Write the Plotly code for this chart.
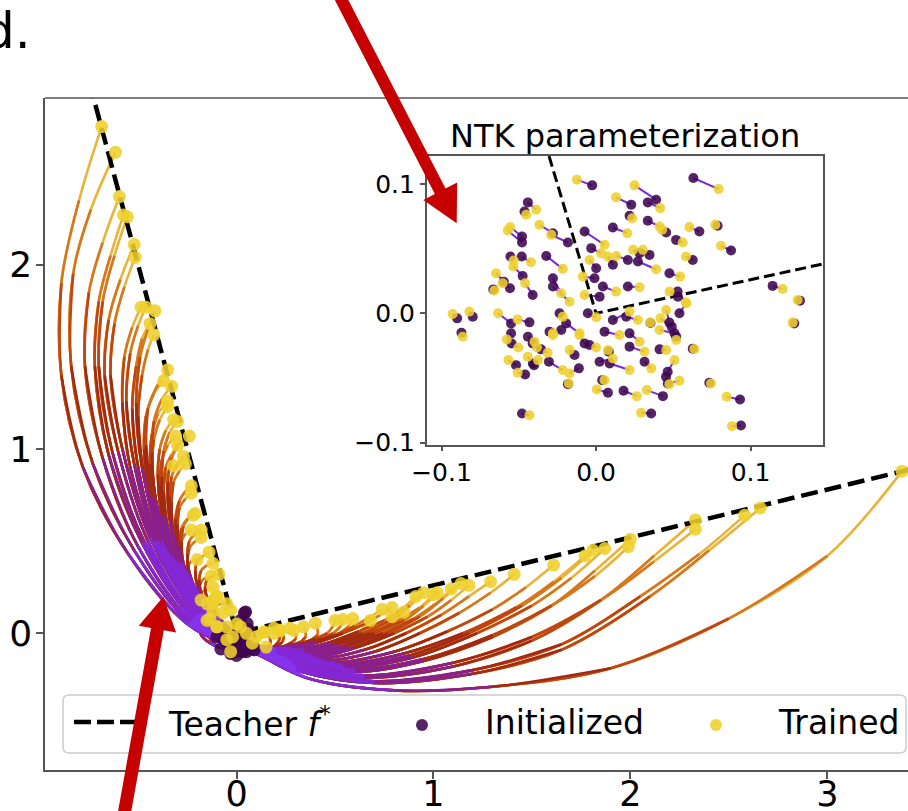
import plotly.graph_objects as go
import math

# ---------------- data ----------------
TEACHER_X = [-1.0, 0.0, 3.5]
TEACHER_Y = [4.0, 0.0, 0.91]

# trajectories ending on the left branch of the teacher (8 samples each, in time order)
LEFT_TRAJ_X = [
    [-0.03, -0.25, -0.55, -0.78, -0.89, -0.89, -0.80, -0.685],
    [-0.02, -0.24, -0.52, -0.73, -0.84, -0.83, -0.74, -0.615],
    [-0.01, -0.23, -0.50, -0.68, -0.77, -0.75, -0.68, -0.595],
    [0.00, -0.22, -0.48, -0.65, -0.72, -0.70, -0.64, -0.575],
    [-0.02, -0.21, -0.47, -0.63, -0.70, -0.68, -0.62, -0.555],
    [0.01, -0.21, -0.45, -0.60, -0.67, -0.65, -0.59, -0.52],
    [-0.01, -0.20, -0.44, -0.58, -0.64, -0.62, -0.57, -0.515],
    [0.00, -0.20, -0.42, -0.54, -0.58, -0.57, -0.53, -0.485],
    [0.02, -0.19, -0.41, -0.52, -0.56, -0.54, -0.50, -0.46],
    [-0.02, -0.18, -0.38, -0.48, -0.51, -0.49, -0.45, -0.415],
    [0.00, -0.19, -0.40, -0.50, -0.53, -0.51, -0.48, -0.44],
    [0.01, -0.18, -0.38, -0.47, -0.50, -0.48, -0.45, -0.42],
    [0.00, -0.17, -0.34, -0.43, -0.46, -0.45, -0.40, -0.35],
    [-0.01, -0.17, -0.35, -0.44, -0.47, -0.46, -0.42, -0.37],
    [0.02, -0.16, -0.33, -0.41, -0.43, -0.42, -0.38, -0.33],
    [0.00, -0.16, -0.33, -0.41, -0.44, -0.43, -0.40, -0.35],
    [-0.02, -0.16, -0.32, -0.40, -0.43, -0.42, -0.39, -0.35],
    [0.01, -0.15, -0.31, -0.38, -0.40, -0.39, -0.36, -0.32],
    [0.00, -0.15, -0.30, -0.37, -0.38, -0.37, -0.34, -0.30],
    [0.02, -0.14, -0.28, -0.34, -0.35, -0.33, -0.29, -0.24],
    [-0.01, -0.15, -0.30, -0.37, -0.39, -0.38, -0.35, -0.31],
    [0.01, -0.14, -0.29, -0.35, -0.37, -0.36, -0.33, -0.30],
    [0.00, -0.14, -0.27, -0.33, -0.34, -0.33, -0.30, -0.27],
    [0.02, -0.13, -0.26, -0.32, -0.33, -0.32, -0.29, -0.26],
    [-0.02, -0.15, -0.29, -0.36, -0.38, -0.37, -0.35, -0.32],
    [0.00, -0.13, -0.25, -0.30, -0.31, -0.29, -0.26, -0.23],
    [0.01, -0.12, -0.24, -0.29, -0.30, -0.29, -0.26, -0.23],
    [0.02, -0.11, -0.22, -0.27, -0.28, -0.27, -0.24, -0.21],
    [-0.01, -0.12, -0.23, -0.28, -0.29, -0.28, -0.25, -0.22],
    [0.00, -0.12, -0.23, -0.28, -0.29, -0.28, -0.26, -0.23],
    [0.03, -0.09, -0.19, -0.24, -0.25, -0.24, -0.21, -0.18],
    [0.01, -0.10, -0.20, -0.24, -0.25, -0.24, -0.21, -0.18],
    [0.02, -0.08, -0.16, -0.20, -0.21, -0.20, -0.17, -0.14],
    [0.03, -0.06, -0.14, -0.18, -0.19, -0.18, -0.15, -0.12],
    [-0.02, -0.12, -0.20, -0.25, -0.26, -0.25, -0.23, -0.20],
    [0.02, -0.07, -0.14, -0.18, -0.19, -0.18, -0.16, -0.13],
    [0.04, -0.04, -0.11, -0.15, -0.16, -0.15, -0.12, -0.09],
    [0.01, -0.07, -0.14, -0.18, -0.19, -0.18, -0.15, -0.12],
    [0.03, -0.05, -0.11, -0.15, -0.16, -0.15, -0.13, -0.10],
    [0.00, -0.08, -0.15, -0.19, -0.20, -0.18, -0.15, -0.12],
    [0.04, -0.02, -0.07, -0.10, -0.11, -0.10, -0.08, -0.05],
    [-0.02, -0.08, -0.14, -0.18, -0.19, -0.18, -0.165, -0.15],
    [0.00, -0.05, -0.10, -0.13, -0.14, -0.13, -0.115, -0.10],
]
LEFT_TRAJ_Y = [
    [-0.07, 0.05, 0.43, 0.90, 1.40, 1.90, 2.35, 2.75],
    [-0.06, 0.06, 0.45, 0.92, 1.45, 1.95, 2.30, 2.61],
    [-0.05, 0.07, 0.47, 0.95, 1.45, 1.85, 2.12, 2.37],
    [-0.06, 0.08, 0.49, 0.97, 1.45, 1.80, 2.05, 2.27],
    [-0.04, 0.09, 0.50, 0.98, 1.45, 1.80, 2.05, 2.26],
    [-0.05, 0.09, 0.50, 0.98, 1.40, 1.70, 1.92, 2.11],
    [-0.07, 0.10, 0.52, 1.00, 1.40, 1.68, 1.88, 2.04],
    [-0.04, 0.10, 0.50, 0.90, 1.25, 1.50, 1.66, 1.77],
    [-0.06, 0.10, 0.50, 0.92, 1.26, 1.52, 1.67, 1.77],
    [-0.05, 0.11, 0.50, 0.90, 1.25, 1.50, 1.65, 1.75],
    [-0.03, 0.10, 0.50, 0.90, 1.22, 1.45, 1.60, 1.68],
    [-0.04, 0.11, 0.48, 0.85, 1.18, 1.40, 1.54, 1.62],
    [-0.05, 0.10, 0.42, 0.75, 1.02, 1.22, 1.35, 1.43],
    [-0.06, 0.10, 0.42, 0.74, 1.00, 1.18, 1.30, 1.37],
    [-0.05, 0.11, 0.42, 0.72, 0.98, 1.15, 1.27, 1.34],
    [-0.07, 0.10, 0.40, 0.68, 0.92, 1.08, 1.19, 1.26],
    [-0.04, 0.11, 0.40, 0.67, 0.90, 1.05, 1.16, 1.23],
    [-0.06, 0.11, 0.39, 0.64, 0.86, 1.00, 1.10, 1.16],
    [-0.05, 0.11, 0.39, 0.64, 0.85, 0.99, 1.09, 1.15],
    [-0.04, 0.12, 0.38, 0.62, 0.82, 0.95, 1.03, 1.07],
    [-0.05, 0.10, 0.37, 0.60, 0.80, 0.94, 1.02, 1.07],
    [-0.07, 0.10, 0.36, 0.58, 0.77, 0.90, 0.97, 1.02],
    [-0.04, 0.11, 0.35, 0.56, 0.74, 0.85, 0.92, 0.96],
    [-0.06, 0.11, 0.34, 0.54, 0.71, 0.82, 0.88, 0.92],
    [-0.05, 0.10, 0.33, 0.53, 0.70, 0.81, 0.87, 0.91],
    [-0.06, 0.09, 0.29, 0.47, 0.62, 0.72, 0.77, 0.80],
    [-0.04, 0.10, 0.28, 0.45, 0.59, 0.68, 0.73, 0.76],
    [-0.05, 0.08, 0.24, 0.38, 0.50, 0.58, 0.63, 0.65],
    [-0.06, 0.07, 0.23, 0.37, 0.49, 0.57, 0.62, 0.64],
    [-0.05, 0.06, 0.20, 0.33, 0.43, 0.50, 0.54, 0.56],
    [-0.04, 0.07, 0.20, 0.33, 0.43, 0.50, 0.54, 0.56],
    [-0.07, 0.05, 0.18, 0.30, 0.39, 0.46, 0.50, 0.52],
    [-0.05, 0.05, 0.16, 0.26, 0.34, 0.39, 0.42, 0.44],
    [-0.06, 0.03, 0.13, 0.22, 0.29, 0.34, 0.37, 0.38],
    [-0.06, 0.04, 0.14, 0.24, 0.31, 0.36, 0.39, 0.40],
    [-0.05, 0.03, 0.11, 0.18, 0.24, 0.28, 0.30, 0.31],
    [-0.04, 0.03, 0.11, 0.19, 0.25, 0.29, 0.31, 0.32],
    [-0.06, 0.01, 0.08, 0.14, 0.19, 0.22, 0.24, 0.25],
    [-0.05, 0.01, 0.07, 0.12, 0.16, 0.18, 0.20, 0.20],
    [-0.07, -0.01, 0.05, 0.10, 0.14, 0.165, 0.18, 0.18],
    [-0.05, 0.00, 0.05, 0.10, 0.13, 0.15, 0.16, 0.16],
    [-0.09, -0.08, -0.05, -0.01, 0.03, 0.055, 0.068, 0.07],
    [-0.10, -0.09, -0.07, -0.04, -0.01, 0.015, 0.03, 0.035],
]

# trajectories ending on the right branch of the teacher
RIGHT_TRAJ_X = [
    [0.05, 0.35, 0.80, 1.30, 1.90, 2.50, 3.00, 3.38],
    [0.04, 0.30, 0.70, 1.20, 1.65, 2.10, 2.40, 2.66],
    [0.02, 0.30, 0.70, 1.20, 1.65, 2.05, 2.35, 2.58],
    [0.05, 0.30, 0.65, 1.10, 1.50, 1.85, 2.12, 2.33],
    [0.03, 0.30, 0.65, 1.10, 1.50, 1.85, 2.12, 2.33],
    [0.04, 0.28, 0.60, 0.95, 1.30, 1.60, 1.82, 2.00],
    [0.02, 0.28, 0.60, 0.95, 1.30, 1.60, 1.82, 1.99],
    [0.05, 0.27, 0.55, 0.90, 1.22, 1.50, 1.70, 1.87],
    [0.03, 0.26, 0.55, 0.88, 1.18, 1.45, 1.65, 1.81],
    [0.06, 0.26, 0.53, 0.85, 1.15, 1.42, 1.61, 1.77],
    [0.04, 0.24, 0.50, 0.80, 1.07, 1.30, 1.47, 1.61],
    [0.05, 0.22, 0.45, 0.70, 0.93, 1.13, 1.29, 1.41],
    [0.03, 0.20, 0.42, 0.65, 0.86, 1.04, 1.18, 1.29],
    [0.06, 0.20, 0.40, 0.60, 0.80, 0.97, 1.09, 1.18],
    [0.04, 0.19, 0.38, 0.58, 0.77, 0.93, 1.05, 1.14],
    [0.07, 0.20, 0.37, 0.56, 0.74, 0.90, 1.01, 1.09],
    [0.05, 0.18, 0.35, 0.53, 0.70, 0.85, 0.95, 1.02],
    [0.06, 0.18, 0.34, 0.51, 0.68, 0.82, 0.93, 1.00],
    [0.04, 0.17, 0.32, 0.48, 0.64, 0.78, 0.88, 0.95],
    [0.07, 0.18, 0.32, 0.47, 0.62, 0.75, 0.85, 0.91],
    [0.05, 0.16, 0.30, 0.45, 0.60, 0.72, 0.80, 0.85],
    [0.06, 0.16, 0.28, 0.41, 0.54, 0.65, 0.73, 0.79],
    [0.04, 0.14, 0.26, 0.38, 0.50, 0.60, 0.68, 0.74],
    [0.08, 0.20, 0.34, 0.48, 0.60, 0.70, 0.76, 0.79],
    [0.06, 0.16, 0.28, 0.40, 0.51, 0.60, 0.65, 0.68],
    [0.05, 0.14, 0.24, 0.35, 0.45, 0.52, 0.57, 0.59],
    [0.07, 0.15, 0.25, 0.35, 0.43, 0.49, 0.53, 0.54],
    [0.06, 0.14, 0.23, 0.32, 0.40, 0.46, 0.49, 0.50],
    [0.06, 0.13, 0.21, 0.30, 0.37, 0.41, 0.41, 0.40],
    [0.05, 0.12, 0.19, 0.26, 0.32, 0.35, 0.35, 0.34],
    [0.07, 0.12, 0.18, 0.24, 0.28, 0.30, 0.30, 0.29],
    [0.05, 0.10, 0.15, 0.20, 0.23, 0.24, 0.23, 0.22],
    [0.04, 0.08, 0.13, 0.18, 0.21, 0.22, 0.21, 0.19],
    [0.03, 0.06, 0.10, 0.14, 0.17, 0.17, 0.16, 0.14],
]
RIGHT_TRAJ_Y = [
    [-0.07, -0.24, -0.31, -0.29, -0.19, 0.08, 0.42, 0.88],
    [-0.08, -0.20, -0.27, -0.22, -0.09, 0.20, 0.45, 0.68],
    [-0.06, -0.19, -0.26, -0.20, -0.06, 0.20, 0.43, 0.64],
    [-0.07, -0.18, -0.24, -0.18, -0.04, 0.18, 0.42, 0.615],
    [-0.08, -0.18, -0.23, -0.16, -0.02, 0.18, 0.39, 0.565],
    [-0.06, -0.16, -0.21, -0.15, -0.02, 0.15, 0.34, 0.51],
    [-0.07, -0.16, -0.20, -0.14, -0.01, 0.15, 0.31, 0.47],
    [-0.08, -0.15, -0.19, -0.13, 0.00, 0.15, 0.30, 0.46],
    [-0.06, -0.15, -0.18, -0.12, 0.00, 0.15, 0.30, 0.45],
    [-0.07, -0.14, -0.17, -0.11, 0.00, 0.14, 0.28, 0.42],
    [-0.08, -0.14, -0.16, -0.10, 0.01, 0.13, 0.25, 0.37],
    [-0.07, -0.13, -0.15, -0.10, 0.00, 0.11, 0.22, 0.32],
    [-0.08, -0.12, -0.14, -0.09, 0.00, 0.10, 0.20, 0.28],
    [-0.06, -0.11, -0.13, -0.08, 0.00, 0.09, 0.18, 0.26],
    [-0.07, -0.11, -0.12, -0.08, 0.00, 0.09, 0.19, 0.27],
    [-0.07, -0.10, -0.12, -0.07, 0.00, 0.08, 0.16, 0.24],
    [-0.08, -0.10, -0.11, -0.07, 0.00, 0.07, 0.15, 0.22],
    [-0.06, -0.09, -0.10, -0.06, 0.00, 0.07, 0.14, 0.21],
    [-0.07, -0.09, -0.10, -0.06, 0.00, 0.07, 0.15, 0.22],
    [-0.07, -0.09, -0.09, -0.05, 0.01, 0.07, 0.14, 0.20],
    [-0.08, -0.09, -0.09, -0.06, -0.02, 0.02, 0.07, 0.115],
    [-0.07, -0.08, -0.08, -0.05, 0.00, 0.05, 0.10, 0.14],
    [-0.06, -0.08, -0.08, -0.05, -0.01, 0.04, 0.09, 0.13],
    [-0.07, -0.09, -0.09, -0.06, -0.03, 0.01, 0.05, 0.09],
    [-0.08, -0.09, -0.09, -0.07, -0.04, -0.01, 0.03, 0.07],
    [-0.06, -0.08, -0.08, -0.06, -0.03, 0.00, 0.04, 0.08],
    [-0.07, -0.08, -0.08, -0.06, -0.03, 0.00, 0.04, 0.075],
    [-0.08, -0.09, -0.08, -0.06, -0.03, 0.00, 0.04, 0.07],
    [-0.07, -0.08, -0.08, -0.06, -0.04, -0.01, 0.03, 0.055],
    [-0.08, -0.09, -0.09, -0.07, -0.05, -0.02, 0.01, 0.035],
    [-0.06, -0.07, -0.08, -0.07, -0.05, -0.03, 0.00, 0.016],
    [-0.07, -0.08, -0.08, -0.07, -0.05, -0.02, 0.00, 0.016],
    [-0.09, -0.10, -0.10, -0.08, -0.05, -0.02, 0.01, 0.027],
    [-0.10, -0.11, -0.11, -0.09, -0.06, -0.03, -0.01, 0.007],
]

# extra points of the dense cluster around the kink
EXTRA_INIT_X = [0.046, 0.02, 0.054, 0.0, 0.04, 0.07, -0.08, -0.03, 0.0, 0.05, 0.09, -0.065, -0.10, -0.03,
                0.04, 0.03, 0.08, 0.06, -0.06, 0.01]
EXTRA_INIT_Y = [0.116, 0.07, 0.053, -0.01, -0.04, -0.02, -0.085, -0.11, -0.12, -0.10, -0.09, 0.016, -0.02, -0.056,
                0.11, -0.08, -0.06, 0.02, -0.04, 0.03]
EXTRA_TRAINED_X = [-0.12, -0.07, -0.03, -0.135, -0.10, -0.05, 0.02, -0.05, -0.02, -0.03, 0.05, 0.10, 0.135,
                   0.19, 0.22, 0.27, 0.08, 0.15, -0.18, -0.15, -0.10, 0.0, -0.12]
EXTRA_TRAINED_Y = [0.16, 0.11, 0.125, 0.08, 0.035, 0.035, 0.035, -0.035, -0.02, -0.10, 0.0, -0.02, 0.005,
                   0.0, 0.016, 0.027, -0.054, -0.075, 0.18, 0.16, 0.20, 0.05, 0.12]

# inset (NTK parameterization): initialized -> trained pairs
INSET_INIT_X = [-0.0479, -0.0479, -0.0554, -0.0481, -0.0597, -0.0475, -0.0665, -0.0410, -0.0557, -0.0899,
                -0.0798, -0.0871, -0.0550, -0.0431, -0.0550, -0.0546, -0.0518, -0.0459, -0.0479, -0.0401,
                -0.0410, -0.0356, -0.0025, 0.0389, 0.0228, 0.0335, 0.0217, 0.0335, 0.0454, 0.0109,
                -0.0074, -0.0182, -0.0279, -0.0031, 0.0109, 0.0206, 0.0282, 0.0346, 0.0271, -0.0322,
                0.0475, -0.0279, -0.0279, 0.0001, -0.0010, 0.0044, 0.0206, 0.0530, 0.0540, 0.0475,
                0.0023, -0.0053, -0.0236, -0.0225, -0.0193, 0.0195, 0.0109, 0.0352, 0.0490, 0.0055,
                0.0217, 0.0508, 0.0519, -0.0441, -0.0301, -0.0074, -0.0042, -0.0139, 0.0023, 0.0083,
                0.0088, 0.0217, 0.0314, 0.0464, 0.0411, 0.0464, -0.0409, -0.0305, -0.0111, 0.0040,
                0.0077, -0.0182, 0.0178, 0.0433, 0.0357, -0.0441, -0.0463, 0.0630, 0.0669, 0.0787,
                0.0874, 0.0626, 0.0518, 0.1143, 0.1320, 0.1283, 0.0528, 0.0626, 0.0733, 0.0932,
                0.0938, 0.0453]
INSET_INIT_Y = [0.0594, 0.0548, 0.0439, 0.0439, 0.0245, 0.0289, 0.0185, 0.0142, 0.0194, -0.0039,
                -0.0026, -0.0150, -0.0078, -0.0070, -0.0155, -0.0233, -0.0401, -0.0473, -0.0775, -0.0401,
                -0.0233, -0.0279, 0.0990, 0.0879, 0.0840, 0.0858, 0.0755, 0.0716, 0.0625, 0.0664,
                0.0633, 0.0548, 0.0620, 0.0504, 0.0375, 0.0413, 0.0465, 0.0452, 0.0401, 0.0444,
                0.0310, 0.0271, 0.0207, 0.0349, 0.0271, 0.0207, 0.0207, 0.0129, 0.0000, -0.0072,
                0.0129, 0.0000, 0.0000, -0.0129, -0.0078, -0.0026, -0.0052, -0.0075, -0.0105, -0.0142,
                -0.0155, -0.0155, -0.0181, -0.0181, -0.0142, -0.0233, -0.0245, -0.0323, -0.0375, -0.0297,
                -0.0388, -0.0258, -0.0375, -0.0452, -0.0279, -0.0543, -0.0388, -0.0375, -0.0426, -0.0517,
                -0.0615, -0.0548, -0.0599, -0.0641, -0.0775, 0.0858, 0.0788, 0.1047, 0.0633, 0.0677,
                0.0486, 0.0413, 0.0568, 0.0212, 0.0098, -0.0078, 0.0168, -0.0274, -0.0537, -0.0667,
                -0.0868, -0.0491]
INSET_TRAINED_X = [-0.0556, -0.0572, -0.0533, -0.0421, -0.0647, -0.0535, -0.0658, -0.0459, -0.0604, -0.0928,
                   -0.0820, -0.0863, -0.0634, -0.0507, -0.0578, -0.0503, -0.0567, -0.0507, -0.0431, -0.0442,
                   -0.0382, -0.0313, -0.0124, 0.0249, 0.0130, 0.0415, 0.0234, 0.0411, 0.0428, 0.0202,
                   0.0055, -0.0290, -0.0366, 0.0033, 0.0076, 0.0130, 0.0240, 0.0303, 0.0389, -0.0215,
                   0.0544, -0.0225, -0.0171, -0.0042, -0.0085, 0.0130, 0.0282, 0.0476, 0.0584, 0.0454,
                   -0.0074, 0.0001, -0.0215, -0.0279, -0.0107, 0.0271, 0.0217, 0.0350, 0.0417, 0.0152,
                   0.0282, 0.0411, 0.0519, -0.0398, -0.0279, -0.0107, 0.0001, -0.0171, 0.0109, 0.0077,
                   0.0217, 0.0314, 0.0357, 0.0508, 0.0454, 0.0540, -0.0376, -0.0215, -0.0171, 0.0055,
                   0.0005, -0.0176, 0.0264, 0.0329, 0.0292, -0.0387, -0.0452, 0.0794, 0.0604, 0.0772,
                   0.0809, 0.0582, 0.0561, 0.1208, 0.1305, 0.1273, 0.0582, 0.0636, 0.0744, 0.0846,
                   0.0880, 0.0475]
INSET_TRAINED_Y = [0.0667, 0.0641, 0.0408, 0.0395, 0.0310, 0.0362, 0.0176, 0.0233, 0.0233, -0.0005,
                   0.0013, -0.0181, 0.0000, -0.0047, -0.0202, -0.0264, -0.0362, -0.0460, -0.0788, -0.0336,
                   -0.0264, -0.0305, 0.1034, 0.0990, 0.0897, 0.0814, 0.0736, 0.0672, 0.0646, 0.0620,
                   0.0530, 0.0607, 0.0685, 0.0465, 0.0439, 0.0444, 0.0491, 0.0491, 0.0341, 0.0344,
                   0.0284, 0.0155, 0.0090, 0.0413, 0.0284, 0.0168, 0.0202, 0.0168, 0.0078, 0.0026,
                   0.0142, -0.0031, -0.0026, -0.0155, -0.0155, -0.0052, 0.0013, -0.0072, -0.0039, -0.0168,
                   -0.0220, -0.0129, -0.0207, -0.0220, -0.0168, -0.0168, -0.0264, -0.0284, -0.0349, -0.0284,
                   -0.0439, -0.0297, -0.0426, -0.0362, -0.0284, -0.0522, -0.0362, -0.0439, -0.0465, -0.0517,
                   -0.0589, -0.0543, -0.0641, -0.0594, -0.0770, 0.0801, 0.0762, 0.0961, 0.0667, 0.0685,
                   0.0522, 0.0439, 0.0548, 0.0189, 0.0103, -0.0072, 0.0083, -0.0276, -0.0543, -0.0646,
                   -0.0873, -0.0548]

# ---------------- style ----------------
FONT = "DejaVu Sans"
SPINE = "#555555"
SEG_COLORS = ['#8633ee', '#8428d6', '#8a2090', '#a32a12', '#bf4610', '#d6761f', '#e9b338']
INIT_COLOR = 'rgba(62,6,80,0.88)'
TRAINED_COLOR = 'rgba(238,208,44,0.88)'
ARROW_RED = '#c60000'

W, H = 908, 811
ML, MR, MT, MB = 45, 0, 98, 41
PW, PH = W - ML - MR, H - MT - MB


def paper(px, py):
    return (px - ML) / PW, (H - MB - py) / PH


fig = go.Figure()

# ---- main trajectories: drawn as nested prefixes so each stretch keeps its time colour ----
trajs = list(zip(LEFT_TRAJ_X, LEFT_TRAJ_Y)) + list(zip(RIGHT_TRAJ_X, RIGHT_TRAJ_Y))
n_pts = len(LEFT_TRAJ_X[0])
for k in range(n_pts - 1, 0, -1):
    xs, ys = [], []
    for tx, ty in trajs:
        xs += list(tx[:k + 1]) + [None]
        ys += list(ty[:k + 1]) + [None]
    fig.add_trace(go.Scatter(x=xs, y=ys, mode='lines',
                             line=dict(color=SEG_COLORS[k - 1], width=2.6, shape='spline', smoothing=1.0),
                             hoverinfo='skip', showlegend=False, connectgaps=False))

# teacher
fig.add_trace(go.Scatter(x=TEACHER_X, y=TEACHER_Y, mode='lines',
                         line=dict(color='black', width=4.5, dash='17px,7px'),
                         hoverinfo='skip', showlegend=False))

init_x = [t[0][0] for t in trajs] + EXTRA_INIT_X
init_y = [t[1][0] for t in trajs] + EXTRA_INIT_Y
tr_x = [t[0][-1] for t in trajs] + EXTRA_TRAINED_X
tr_y = [t[1][-1] for t in trajs] + EXTRA_TRAINED_Y
fig.add_trace(go.Scatter(x=init_x, y=init_y, mode='markers',
                         marker=dict(color=INIT_COLOR, size=13, line=dict(width=0)),
                         hoverinfo='skip', showlegend=False))
fig.add_trace(go.Scatter(x=tr_x, y=tr_y, mode='markers',
                         marker=dict(color=TRAINED_COLOR, size=13, line=dict(width=0)),
                         hoverinfo='skip', showlegend=False))

# ---- inset ----
lx, ly = [], []
for a, b, c, d in zip(INSET_INIT_X, INSET_INIT_Y, INSET_TRAINED_X, INSET_TRAINED_Y):
    lx += [a, c, None]
    ly += [b, d, None]
fig.add_trace(go.Scatter(x=lx, y=ly, mode='lines', xaxis='x2', yaxis='y2',
                         line=dict(color='#7a28e0', width=2), hoverinfo='skip', showlegend=False))
fig.add_trace(go.Scatter(x=TEACHER_X, y=TEACHER_Y, mode='lines', xaxis='x2', yaxis='y2',
                         line=dict(color='black', width=3, dash='11px,5px'),
                         hoverinfo='skip', showlegend=False))
fig.add_trace(go.Scatter(x=INSET_INIT_X, y=INSET_INIT_Y, mode='markers', xaxis='x2', yaxis='y2',
                         marker=dict(color=INIT_COLOR, size=10, line=dict(width=0)),
                         hoverinfo='skip', showlegend=False))
fig.add_trace(go.Scatter(x=INSET_TRAINED_X, y=INSET_TRAINED_Y, mode='markers', xaxis='x2', yaxis='y2',
                         marker=dict(color=TRAINED_COLOR, size=10, line=dict(width=0)),
                         hoverinfo='skip', showlegend=False))

# ---- shapes: spine, legend box, arrows ----
shapes = []
shapes.append(dict(type='line', xref='paper', yref='paper', x0=0, x1=1, y0=1, y1=1,
                   line=dict(color=SPINE, width=1.5), layer='above'))


def rounded_rect(x0, y0, x1, y1, r):
    def P(x, y):
        px_, py_ = paper(x, y)
        return f"{px_:.5f},{py_:.5f}"
    return (f"M {P(x0 + r, y0)} L {P(x1 - r, y0)} Q {P(x1, y0)} {P(x1, y0 + r)} "
            f"L {P(x1, y1 - r)} Q {P(x1, y1)} {P(x1 - r, y1)} L {P(x0 + r, y1)} "
            f"Q {P(x0, y1)} {P(x0, y1 - r)} L {P(x0, y0 + r)} Q {P(x0, y0)} {P(x0 + r, y0)} Z")


shapes.append(dict(type='path', xref='paper', yref='paper', path=rounded_rect(63, 695, 906, 753, 6),
                   fillcolor='rgba(255,255,255,0.85)', line=dict(color='#cccccc', width=1.5), layer='above'))
sx0, sy0 = paper(74, 722)
sx1, _ = paper(138, 722)
shapes.append(dict(type='line', xref='paper', yref='paper', x0=sx0, x1=sx1, y0=sy0, y1=sy0,
                   line=dict(color='black', width=4.5, dash='17px,6px'), layer='above'))
for cx, col in [(422, INIT_COLOR), (716, TRAINED_COLOR)]:
    a0, b0 = paper(cx - 6, 725 + 6)
    a1, b1 = paper(cx + 6, 725 - 6)
    shapes.append(dict(type='circle', xref='paper', yref='paper', x0=a0, x1=a1, y0=b0, y1=b1,
                       fillcolor=col, line=dict(width=0), layer='above'))


def arrow_path(tail, tip, w, L, Wh):
    dx, dy = tip[0] - tail[0], tip[1] - tail[1]
    n = math.hypot(dx, dy)
    ux, uy = dx / n, dy / n
    nx, ny = -uy, ux
    bx, by = tip[0] - L * ux, tip[1] - L * uy
    pts = [(tail[0] + nx * w / 2, tail[1] + ny * w / 2), (bx + nx * w / 2, by + ny * w / 2),
           (bx + nx * Wh / 2, by + ny * Wh / 2), tip,
           (bx - nx * Wh / 2, by - ny * Wh / 2), (bx - nx * w / 2, by - ny * w / 2),
           (tail[0] - nx * w / 2, tail[1] - ny * w / 2)]
    s = []
    for i, (x, y) in enumerate(pts):
        px_, py_ = paper(x, y)
        s.append(("M " if i == 0 else "L ") + f"{px_:.5f},{py_:.5f}")
    return " ".join(s) + " Z"


shapes.append(dict(type='path', xref='paper', yref='paper',
                   path=arrow_path((339, -5), (456.7, 223.3), 12, 36, 38),
                   fillcolor=ARROW_RED, line=dict(width=0), layer='above'))
shapes.append(dict(type='path', xref='paper', yref='paper',
                   path=arrow_path((123.8, 816), (163.3, 596.7), 13, 33, 38),
                   fillcolor=ARROW_RED, line=dict(width=0), layer='above'))

# ---- annotations ----
ann = []


def text_at(text, px, py, size, xanchor='left', yanchor='middle'):
    x_, y_ = paper(px, py)
    ann.append(dict(text=text, x=x_, y=y_, xref='paper', yref='paper', xanchor=xanchor, yanchor=yanchor,
                    showarrow=False, font=dict(size=size, family=FONT, color='black')))


text_at('Teacher <i>f</i><sup>*</sup>', 166, 722, 33)
text_at('Initialized', 483, 722, 33)
text_at('Trained', 776, 722, 33)
text_at('d.', 33, 31, 50, xanchor='right')
text_at('NTK parameterization', 625, 157, 32, xanchor='center', yanchor='bottom')

ix0, iy1 = paper(426.7, 156)
ix1, iy0 = paper(823.3, 444.5)

axis_common = dict(ticks='outside', tickwidth=1.5, tickcolor=SPINE, showline=True, linecolor=SPINE,
                   linewidth=1.5, showgrid=False, zeroline=False, automargin=False)

fig.update_layout(
    width=W, height=H, template='none',
    margin=dict(l=ML, r=MR, t=MT, b=MB, pad=0),
    paper_bgcolor='white', plot_bgcolor='white',
    font=dict(family=FONT, color='black'),
    showlegend=False,
    xaxis=dict(range=[-0.973, 3.41], tickvals=[0, 1, 2, 3], ticktext=['0', '1', '2', '3'], ticklen=7,
               ticklabelstandoff=-15, tickfont=dict(size=35, family=FONT, color='black'), **axis_common),
    yaxis=dict(range=[-0.742, 2.905], tickvals=[0, 1, 2], ticktext=['0', '1', '2'], ticklen=7,
               ticklabelstandoff=-3, tickfont=dict(size=36, family=FONT, color='black'), **axis_common),
    xaxis2=dict(domain=[ix0, ix1], anchor='y2', range=[-0.1096, 0.1471],
                tickvals=[-0.1, 0.0, 0.1], ticktext=['\u22120.1', '0.0', '0.1'], ticklen=5, mirror=True,
                tickfont=dict(size=25, family=FONT, color='black'), **axis_common),
    yaxis2=dict(domain=[iy0, iy1], anchor='x2', range=[-0.1015, 0.1217],
                tickvals=[-0.1, 0.0, 0.1], ticktext=['\u22120.1', '0.0', '0.1'], ticklen=5, mirror=True,
                tickfont=dict(size=25, family=FONT, color='black'), **axis_common),
    shapes=shapes,
    annotations=ann,
)

fig.write_html("out.html", config={'displayModeBar': False})
with open("out.html", "r", encoding="utf-8") as f:
    html = f.read()
html = html.replace("<body>", "<body style=\"margin:0;padding:0;overflow:hidden\">", 1)
with open("out.html", "w", encoding="utf-8") as f:
    f.write(html)
